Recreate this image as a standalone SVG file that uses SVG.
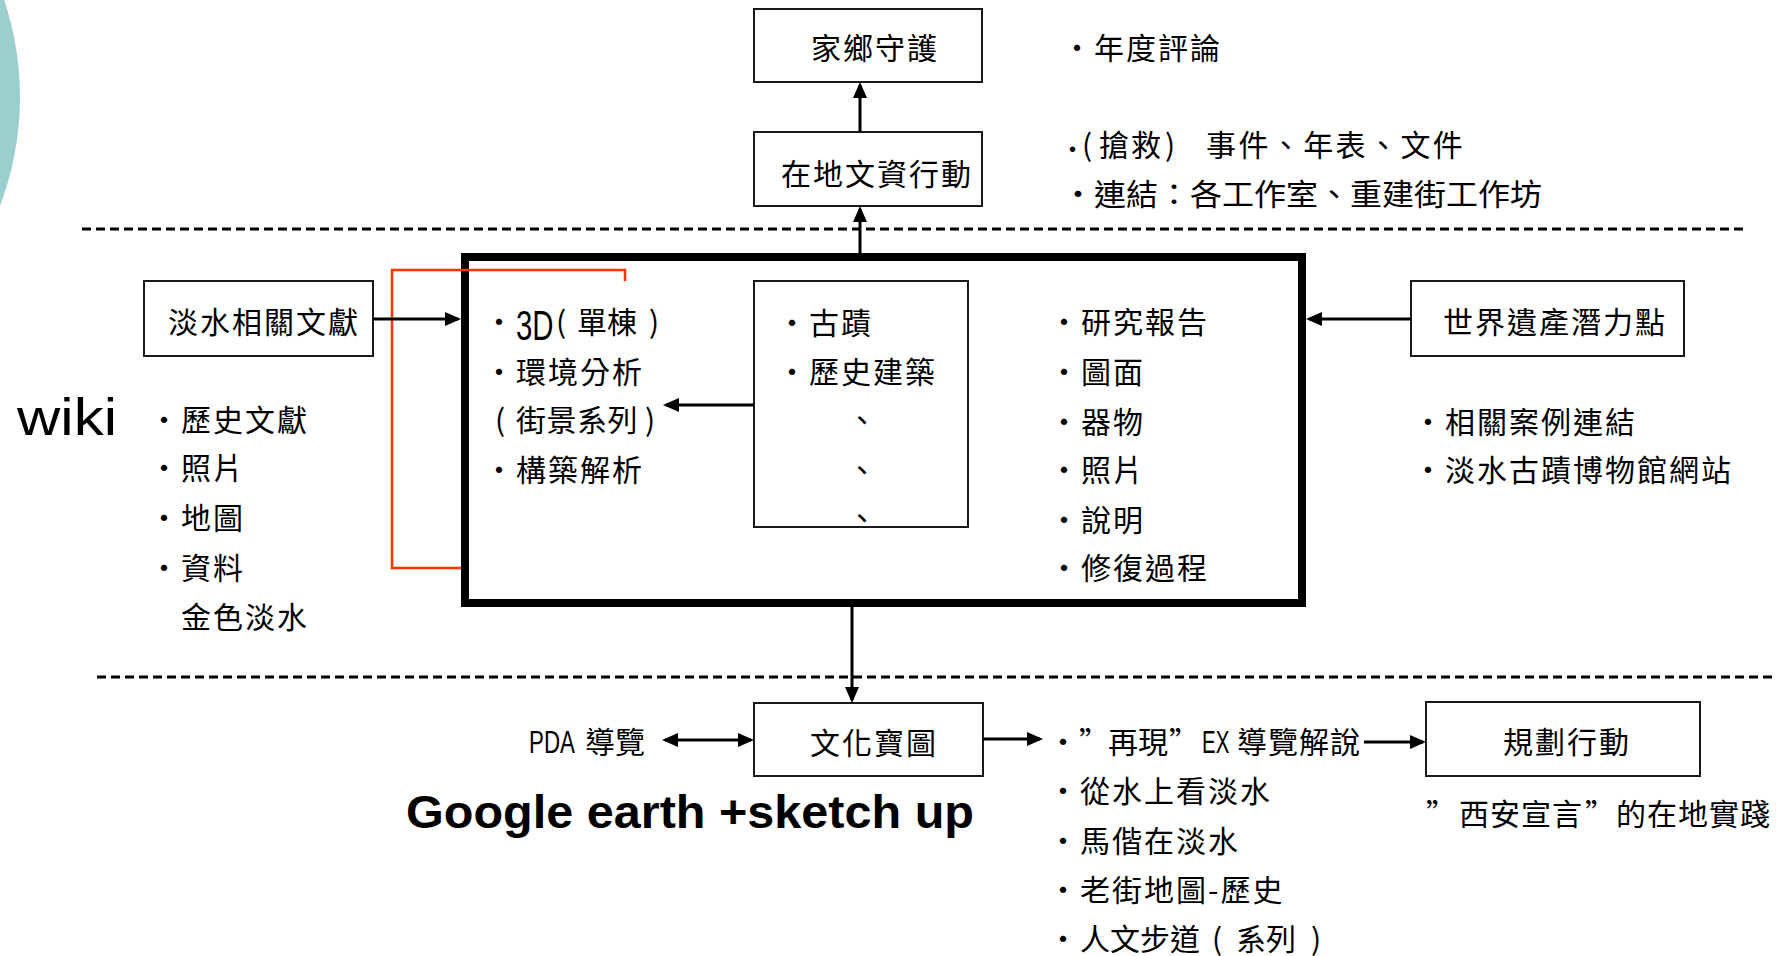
<svg xmlns="http://www.w3.org/2000/svg" width="1787" height="956" viewBox="0 0 1787 956">
<style>
.t{font-family:"Noto Sans CJK TC","Noto Sans CJK JP",sans-serif;font-size:30px;letter-spacing:2px;fill:#000}
.box{fill:#fff;stroke:#1a1a1a;stroke-width:2}
.conn{stroke:#000;stroke-width:3;fill:none}
.dash{stroke:#000;stroke-width:3;stroke-dasharray:9 5;fill:none}
.lat{font-family:"Liberation Sans",Arial,sans-serif;fill:#000}
</style>
<defs>
<marker id="ah" markerWidth="16" markerHeight="14" refX="13" refY="7" orient="auto-start-reverse" markerUnits="userSpaceOnUse"><path d="M0,0 L16,7 L0,14 z" fill="#000"/></marker>
</defs>
<rect width="1787" height="956" fill="#fff"/>
<circle cx="-286" cy="97" r="306" fill="#9BCFCF"/>

<g id="separators">
<line class="dash" x1="82" y1="229" x2="1744" y2="229"/>
<line class="dash" x1="97" y1="677" x2="1772" y2="677"/>
</g>

<g id="node-core">
<rect x="465" y="257" width="837" height="346" fill="#fff" stroke="#000" stroke-width="8"/>
<text class="t" x="484" y="333" style="letter-spacing:0">・</text>
<text class="lat" transform="translate(516,340) scale(0.7,1)" style="font-size:42px">3D</text>
<text class="t" y="333" style="letter-spacing:0"><tspan x="556">(</tspan><tspan x="577">單棟</tspan><tspan x="649">)</tspan></text>
<text class="t" x="484" y="383">・環境分析</text>
<text class="t" y="431" style="letter-spacing:0"><tspan x="495">(</tspan><tspan x="516" style="letter-spacing:0.5px">街景系列</tspan><tspan x="645">)</tspan></text>
<text class="t" x="484" y="481">・構築解析</text>
<text class="t" x="1049" y="333">・研究報告</text>
<text class="t" x="1049" y="383">・圖面</text>
<text class="t" x="1049" y="433">・器物</text>
<text class="t" x="1049" y="481">・照片</text>
<text class="t" x="1049" y="531">・說明</text>
<text class="t" x="1049" y="579">・修復過程</text>
</g>

<g id="red-bracket">
<polyline points="625,281 625,270 392,270 392,568 461,568" fill="none" stroke="#FF3300" stroke-width="2.5"/>
</g>

<g id="node-heritage-list">
<rect class="box" x="754" y="281" width="214" height="246"/>
<text class="t" x="777" y="334">・古蹟</text>
<text class="t" x="777" y="383">・歷史建築</text>
<text class="t" x="862" y="431" text-anchor="middle" style="letter-spacing:0">、</text>
<text class="t" x="862" y="481" text-anchor="middle" style="letter-spacing:0">、</text>
<text class="t" x="862" y="529" text-anchor="middle" style="letter-spacing:0">、</text>
</g>

<g id="node-home">
<rect class="box" x="754" y="9" width="228" height="73"/>
<text class="t" x="875" y="59" text-anchor="middle">家鄉守護</text>
</g>
<g id="node-home-note">
<text class="t" x="1062" y="59">・年度評論</text>
</g>

<g id="node-local">
<rect class="box" x="754" y="132" width="228" height="74"/>
<text class="t" x="877" y="185" text-anchor="middle">在地文資行動</text>
</g>
<g id="node-local-note">
<text class="t" y="156" style="letter-spacing:0"><tspan x="1069" class="lat" style="font-size:20px">•</tspan><tspan x="1082">(</tspan><tspan x="1099" style="letter-spacing:2px">搶救</tspan><tspan x="1165">)</tspan><tspan x="1206" style="letter-spacing:2.4px">事件、年表、文件</tspan></text>
<text class="t" x="1062" y="205" style="letter-spacing:0" textLength="480" lengthAdjust="spacingAndGlyphs">・連結&#xFF1A;各工作室、重建街工作坊</text>
</g>

<g id="node-docs">
<rect class="box" x="144" y="281" width="229" height="75"/>
<text class="t" x="168" y="333">淡水相關文獻</text>
</g>

<g id="node-wiki">
<text class="lat" x="17" y="435" style="font-size:52px" textLength="100" lengthAdjust="spacingAndGlyphs">wiki</text>
<text class="t" x="149" y="431">・歷史文獻</text>
<text class="t" x="149" y="479">・照片</text>
<text class="t" x="149" y="529">・地圖</text>
<text class="t" x="149" y="579">・資料</text>
<text class="t" x="181" y="628">金色淡水</text>
</g>

<g id="node-world">
<rect class="box" x="1411" y="281" width="273" height="75"/>
<text class="t" x="1443" y="333">世界遺產潛力點</text>
<text class="t" x="1413" y="433">・相關案例連結</text>
<text class="t" x="1413" y="481">・淡水古蹟博物館網站</text>
</g>

<g id="node-map">
<rect class="box" x="754" y="703" width="229" height="73"/>
<text class="t" x="874" y="754" text-anchor="middle">文化寶圖</text>
</g>

<g id="node-pda">
<text class="lat" transform="translate(529,753) scale(0.72,1)" style="font-size:31px">PDA</text>
<text class="t" x="585" y="753" style="letter-spacing:0">導覽</text>
</g>

<g id="node-google">
<text class="lat" x="406" y="828" style="font-size:46px;font-weight:bold" textLength="568" lengthAdjust="spacingAndGlyphs">Google earth +sketch up</text>
</g>

<g id="node-tour-list">
<text class="t" x="1048" y="753" style="letter-spacing:0">・</text>
<text class="t" x="1079" y="753" style="letter-spacing:0">”</text>
<text class="t" x="1108" y="753" style="letter-spacing:0">再現</text>
<text class="t" x="1169" y="753" style="letter-spacing:0">”</text>
<text class="lat" transform="translate(1202,753) scale(0.66,1)" style="font-size:31px">EX</text>
<text class="t" x="1237" y="753" style="letter-spacing:1px">導覽解說</text>
<text class="t" x="1048" y="802">・從水上看淡水</text>
<text class="t" x="1048" y="852">・馬偕在淡水</text>
<text class="t" x="1048" y="901">・老街地圖-歷史</text>
<text class="t" y="950" style="letter-spacing:0"><tspan x="1048">・</tspan><tspan x="1080">人文步道</tspan><tspan x="1212">(</tspan><tspan x="1236">系列</tspan><tspan x="1311">)</tspan></text>
</g>

<g id="node-plan">
<rect class="box" x="1426" y="702" width="274" height="74"/>
<text class="t" x="1567" y="753" text-anchor="middle">規劃行動</text>
<text class="t" x="1426" y="825" style="letter-spacing:0">”</text>
<text class="t" x="1459" y="825" style="letter-spacing:1px">西安宣言</text>
<text class="t" x="1585" y="825" style="letter-spacing:0">”</text>
<text class="t" x="1616" y="825" style="letter-spacing:1px">的在地實踐</text>
</g>

<g id="connectors">
<line class="conn" x1="860" y1="132" x2="860" y2="85" marker-end="url(#ah)"/>
<line class="conn" x1="860" y1="253" x2="860" y2="209" marker-end="url(#ah)"/>
<line class="conn" x1="373" y1="319" x2="458" y2="319" marker-end="url(#ah)"/>
<line class="conn" x1="1411" y1="319" x2="1309" y2="319" marker-end="url(#ah)"/>
<line class="conn" x1="754" y1="405" x2="666" y2="405" marker-end="url(#ah)"/>
<line class="conn" x1="852" y1="607" x2="852" y2="700" marker-end="url(#ah)"/>
<line class="conn" x1="665" y1="740" x2="751" y2="740" marker-start="url(#ah)" marker-end="url(#ah)"/>
<line class="conn" x1="983" y1="739" x2="1040" y2="739" marker-end="url(#ah)"/>
<line class="conn" x1="1364" y1="742" x2="1423" y2="742" marker-end="url(#ah)"/>
</g>
</svg>
